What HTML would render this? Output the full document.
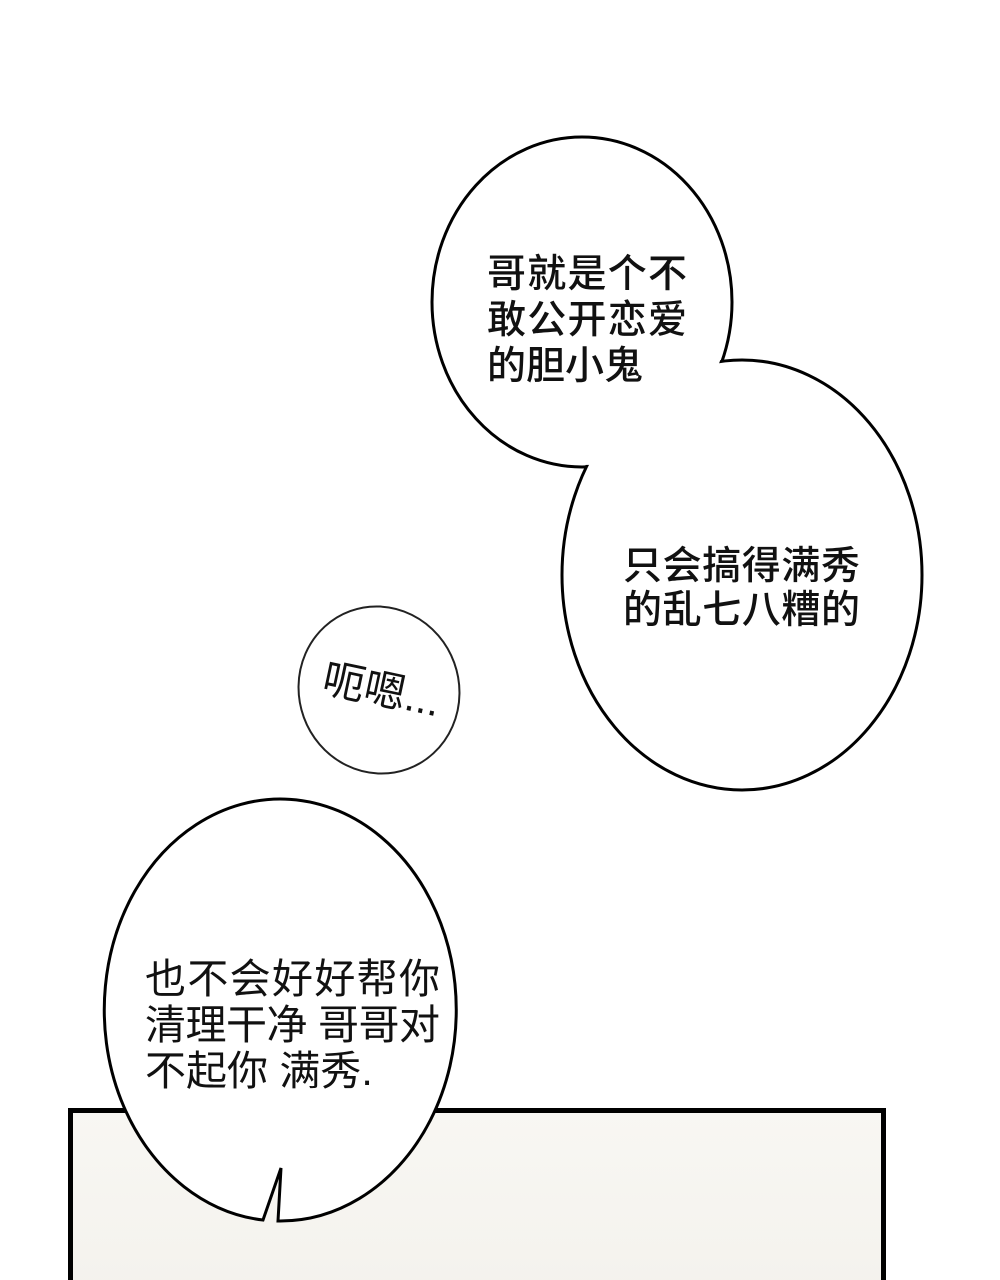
<!DOCTYPE html>
<html><head><meta charset="utf-8"><style>
html,body{margin:0;padding:0;background:#fff}
svg{display:block}
text{font-family:"Liberation Sans","Noto Sans CJK SC",sans-serif;fill:#111}
</style></head><body>
<svg width="1000" height="1280" viewBox="0 0 1000 1280" xmlns="http://www.w3.org/2000/svg">
<defs><linearGradient id="g" x1="0" y1="0" x2="0" y2="1"><stop offset="0" stop-color="#f8f7f3"/><stop offset="1" stop-color="#f4f2ed"/></linearGradient></defs>
<rect width="1000" height="1280" fill="#fff"/>
<rect x="70.5" y="1110.5" width="813" height="180" fill="url(#g)" stroke="#000" stroke-width="5"/>
<ellipse cx="582" cy="302" rx="150" ry="165" fill="#fff" stroke="#000" stroke-width="3"/>
<ellipse cx="742" cy="575" rx="180" ry="215" fill="#fff" stroke="#000" stroke-width="3"/>
<ellipse cx="582" cy="302" rx="148" ry="163" fill="#fff"/>
<ellipse cx="379" cy="690" rx="80" ry="84" transform="rotate(-20 379 690)" fill="#fff" stroke="#222" stroke-width="2"/>
<path d="M278,1221 L281,1168 L263,1220 A176 211 0 1 1 278,1221 Z" fill="#fff" stroke="#000" stroke-width="3" stroke-linejoin="miter"/>
<g font-size="39" font-weight="500">
<text x="487" y="287" textLength="200">哥就是个不</text>
<text x="487" y="333" textLength="200">敢公开恋爱</text>
<text x="487" y="379">的胆小鬼</text>
<text x="623" y="579" textLength="237">只会搞得满秀</text>
<text x="623" y="623" textLength="237">的乱七八糟的</text>
</g>
<text x="322" y="702" font-size="42" transform="rotate(12 370 690)">呃嗯...</text>
<g font-size="41">
<text x="145" y="993" textLength="295">也不会好好帮你</text>
<text x="145" y="1039" textLength="295">清理干净 哥哥对</text>
<text x="145" y="1085">不起你 满秀.</text>
</g>
</svg>
</body></html>
